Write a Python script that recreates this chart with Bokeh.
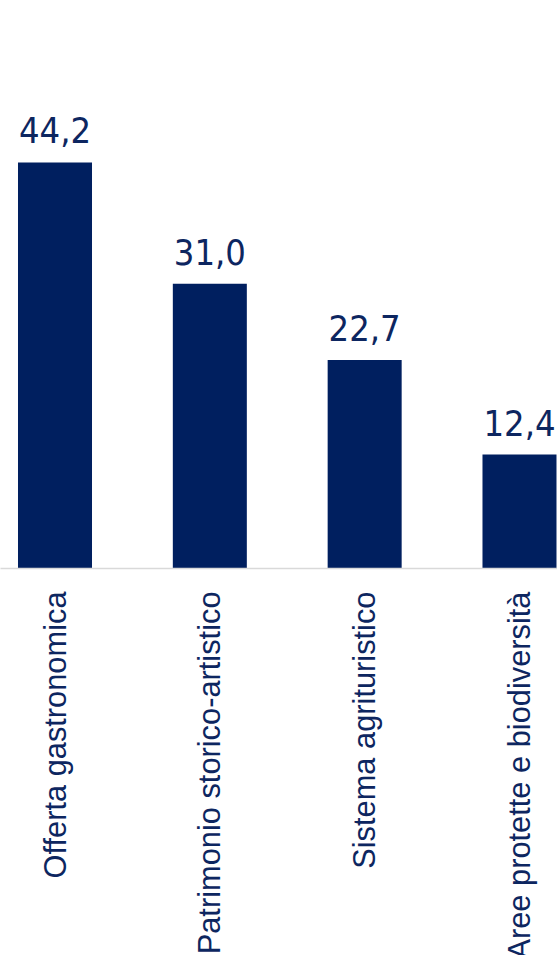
import math
from bokeh.plotting import figure
from bokeh.models import ColumnDataSource, Range1d, FixedTicker, LabelSet
from bokeh.core.properties import value
from bokeh.embed import file_html
from bokeh.resources import INLINE

categories = ["Offerta gastronomica", "Patrimonio storico-artistico",
              "Sistema agrituristico", "Aree protette e biodiversità"]
values = [44.2, 31.0, 22.7, 12.4]
value_labels = ["44,2", "31,0", "22,7", "12,4"]

NAVY = "#001f5f"
positions = list(range(len(categories)))

src = ColumnDataSource(dict(x=positions, top=values, lab=value_labels))

p = figure(frame_width=557, frame_height=568, output_backend="svg",
           toolbar_location=None, x_range=Range1d(-0.352, 3.2455),
           y_range=Range1d(0, 61.83), min_border=0)
p.outline_line_color = None
p.background_fill_color = "white"
p.border_fill_color = "white"
p.xgrid.visible = False
p.ygrid.visible = False
p.yaxis.visible = False

p.vbar(x="x", top="top", width=0.478, bottom=0, source=src,
       fill_color=NAVY, line_color=None)

labels = LabelSet(x="x", y="top", text="lab", source=src, text_align="center",
                  text_baseline="alphabetic", y_offset=19,
                  text_font=value("DejaVu Sans Condensed"), text_font_size="36px",
                  text_color="#0d2660")
p.add_layout(labels)

ax = p.xaxis[0]
ax.ticker = FixedTicker(ticks=positions)
ax.major_label_overrides = {i: c for i, c in enumerate(categories)}
ax.major_label_orientation = math.pi / 2
ax.major_tick_line_color = None
ax.minor_tick_line_color = None
ax.major_tick_out = 0
ax.major_tick_in = 0
ax.major_label_standoff = 23
ax.axis_line_color = "#d9d9d9"
ax.axis_line_width = 1.5
ax.major_label_text_font = "Liberation Sans"
ax.major_label_text_font_size = "30.8px"
ax.major_label_text_color = "#0d2660"

open("out.html", "w").write(file_html(p, INLINE))
